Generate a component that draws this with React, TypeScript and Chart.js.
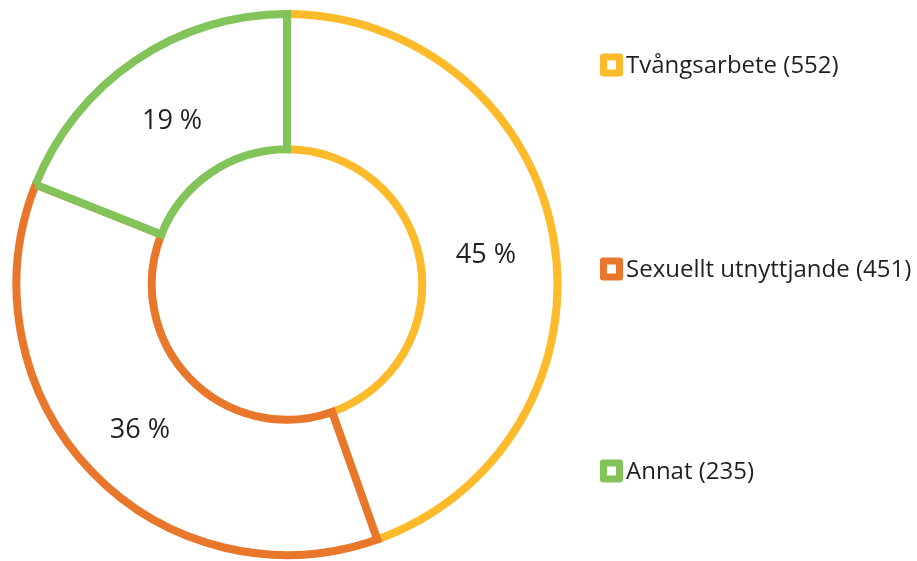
import React, { useEffect, useRef } from "react";
import { Chart, registerables } from "chart.js";

Chart.register(...registerables);

const categories = ["Tvångsarbete", "Sexuellt utnyttjande", "Annat"];
const counts = [552, 451, 235];
const percentLabels = ["45 %", "36 %", "19 %"];
const colors = ["#FDBA2B", "#E8762B", "#82C35A"];

const FONT = "'Open Sans', sans-serif";

const labelPlugin = {
  id: "sliceLabels",
  afterDatasetsDraw(chart: any) {
    const ctx = chart.ctx;
    const meta = chart.getDatasetMeta(0);
    ctx.save();
    ctx.fillStyle = "#231F20";
    ctx.font = `27px ${FONT}`;
    ctx.textAlign = "center";
    ctx.textBaseline = "middle";
    meta.data.forEach((arc: any, i: number) => {
      const p = arc.tooltipPosition();
      ctx.fillText(percentLabels[i], p.x - 1, p.y + 5);
    });
    ctx.restore();
  },
};

const legendPlugin = {
  id: "sideLegend",
  afterDraw(chart: any) {
    const ctx = chart.ctx;
    const x0 = 600;
    const ys = [65, 269, 471];
    ctx.save();
    categories.forEach((c, i) => {
      const y = ys[i];
      const s = 23;
      ctx.fillStyle = colors[i];
      ctx.beginPath();
      (ctx as any).roundRect(x0, y - s / 2, s, s, 3);
      ctx.fill();
      ctx.fillStyle = "#ffffff";
      ctx.fillRect(x0 + 7, y - 4.5, 9, 9);
      ctx.fillStyle = "#231F20";
      ctx.font = `24px ${FONT}`;
      ctx.textAlign = "left";
      ctx.textBaseline = "middle";
      ctx.fillText(`${c} (${counts[i]})`, x0 + 26, y + 1);
    });
    ctx.restore();
  },
};

export default function App() {
  const ref = useRef<HTMLCanvasElement | null>(null);
  useEffect(() => {
    if (!ref.current) return;
    const chart = new Chart(ref.current, {
      type: "doughnut",
      data: {
        labels: categories,
        datasets: [
          {
            data: counts,
            backgroundColor: "#ffffff",
            borderColor: colors,
            borderWidth: 8,
            borderJoinStyle: "miter",
            hoverOffset: 0,
          } as any,
        ],
      },
      options: {
        animation: false,
        responsive: true,
        maintainAspectRatio: false,
        cutout: "50%",
        layout: { padding: { top: 10, bottom: 2, left: 0, right: 343 } },
        plugins: {
          legend: { display: false },
          tooltip: { enabled: false },
        },
      },
      plugins: [labelPlugin, legendPlugin],
    });
    return () => chart.destroy();
  }, []);
  return (
    <div style={{ position: "absolute", left: 0, top: 0, width: 917, height: 561, background: "#fff" }}>
      <canvas ref={ref} />
    </div>
  );
}
